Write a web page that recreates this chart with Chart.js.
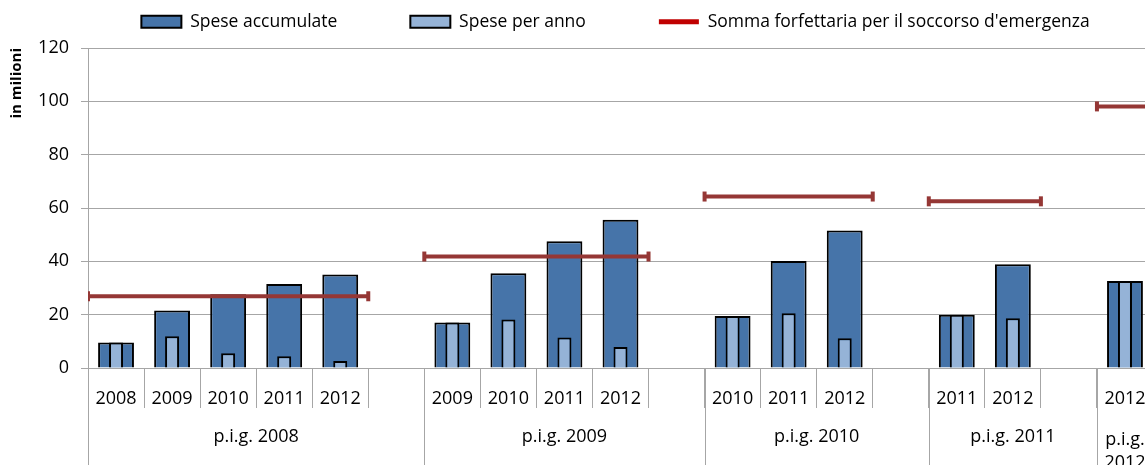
<!DOCTYPE html>
<html>
<head>
<meta charset="utf-8">
<script src="https://cdn.jsdelivr.net/npm/chart.js@4.4.3/dist/chart.umd.min.js"></script>
<style>
  html, body { margin: 0; padding: 0; background: #fff; overflow: hidden; }
  #wrap { width: 1228px; height: 480px; }
</style>
</head>
<body>
<div id="wrap"><canvas id="chart" width="1228" height="480"></canvas></div>
<script>
// bottom row: one empty slot closes every p.i.g. block
const yearLabels = ['2008', '2009', '2010', '2011', '2012', '',
                    '2009', '2010', '2011', '2012', '',
                    '2010', '2011', '2012', '',
                    '2011', '2012', '',
                    '2012'];
const speseAccumulate = [9.6, 21.6, 27.7, 31.5, 35.1, null,
                         17.1, 35.5, 47.5, 55.6, null,
                         19.5, 40.1, 51.6, null,
                         20.0, 38.9, null,
                         32.6];
const spesePerAnno = [9.6, 11.9, 5.5, 4.4, 2.6, null,
                      17.1, 18.2, 11.4, 7.9, null,
                      19.5, 20.5, 11.2, null,
                      20.0, 18.7, null,
                      32.6];

// top row: blocks of years
const groupLabels = ['p.i.g. 2008', 'p.i.g. 2009', 'p.i.g. 2010', 'p.i.g. 2011', 'p.i.g. 2012'];
const groupStart = [0, 6, 11, 15, 18];
const groupYears = [5, 4, 3, 2, 1];    // slots holding bars
const groupSlots = [6, 5, 4, 3, 1];    // incl. the trailing empty slot
const sommaForfettaria = [26.9, 41.8, 64.3, 62.5, 98.1];

const yTicks = [0, 20, 40, 60, 80, 100, 120];

const FONT = "'Open Sans', sans-serif";
Chart.defaults.font.family = FONT;
Chart.defaults.color = '#000';

// one horizontal segment per block, spanning its year slots
const sommaPoints = [];
groupStart.forEach((s, i) => {
  sommaPoints.push({ x: s - 0.5, y: sommaForfettaria[i] });
  sommaPoints.push({ x: s + groupYears[i] - 0.5, y: sommaForfettaria[i] });
  sommaPoints.push({ x: s + groupYears[i], y: null });
});

// draws the p.i.g. row below the years
const groupAxis = {
  id: 'groupAxis',
  afterDraw(chart) {
    const ctx = chart.ctx;
    const xl = chart.scales.xl;
    const top = chart.scales.x.top;
    ctx.save();
    ctx.strokeStyle = '#a6a6a6';
    ctx.lineWidth = 1;
    ctx.fillStyle = '#000';
    ctx.font = '18px ' + FONT;
    ctx.textAlign = 'center';
    ctx.textBaseline = 'middle';
    groupLabels.forEach((lab, i) => {
      const a = xl.getPixelForValue(groupStart[i] - 0.5);
      const b = xl.getPixelForValue(groupStart[i] + groupSlots[i] - 0.5);
      const px = Math.round(a) + 0.5;
      ctx.beginPath();
      ctx.moveTo(px, top);
      ctx.lineTo(px, chart.height);
      ctx.stroke();
      let lines = [lab];
      if (ctx.measureText(lab).width > b - a - 6) lines = lab.split(' ');
      const y0 = top + 69 + (lines.length - 1) * 3;
      lines.forEach((t, k) => ctx.fillText(t, (a + b) / 2, y0 + k * 23));
    });
    ctx.restore();
  }
};

// legend sits higher and a bit right of where the layout puts it
// (bottom kept so the clip box still holds the items)
const legendPlace = {
  id: 'legendPlace',
  afterLayout(chart) {
    const lg = chart.legend;
    lg.top -= 60;
    lg.left += 35;
    lg.right += 35;
  }
};

new Chart(document.getElementById('chart'), {
  data: {
    labels: yearLabels,
    datasets: [
      {
        type: 'bar',
        label: 'Spese accumulate',
        data: speseAccumulate,
        backgroundColor: '#4674a9',
        borderColor: '#000',
        borderWidth: 2,
        grouped: false,
        categoryPercentage: 1,
        barPercentage: 0.64,
        order: 2
      },
      {
        type: 'bar',
        label: 'Spese per anno',
        data: spesePerAnno,
        backgroundColor: '#95b3d7',
        borderColor: '#000',
        borderWidth: 2,
        grouped: false,
        categoryPercentage: 1,
        barPercentage: 0.25,
        order: 1
      },
      {
        type: 'line',
        label: "Somma forfettaria per il soccorso d'emergenza",
        data: sommaPoints,
        xAxisID: 'xl',
        borderColor: '#953735',
        backgroundColor: '#953735',
        borderWidth: 4,
        spanGaps: false,
        pointStyle: 'line',
        rotation: 90,
        pointRadius: 5,
        pointBorderWidth: 4,
        pointBorderColor: '#953735',
        pointHoverRadius: 5,
        order: 0
      }
    ]
  },
  options: {
    responsive: false,
    animation: false,
    devicePixelRatio: 1,
    layout: { padding: { left: 8, right: 75, top: 0, bottom: 0 } },
    plugins: {
      tooltip: { enabled: false },
      legend: {
        position: 'top',
        maxHeight: 48,
        labels: {
          usePointStyle: true,
          pointStyleWidth: 40,
          boxHeight: 12,
          padding: 73,
          font: { size: 17.5 },
          color: '#000',
          sort: (a, b) => a.datasetIndex - b.datasetIndex,
          generateLabels(chart) {
            const items = Chart.defaults.plugins.legend.labels.generateLabels(chart);
            items.forEach((it) => {
              if (it.datasetIndex === 2) {
                it.pointStyle = 'line';
                it.rotation = 0;
                it.strokeStyle = '#c00000';
                it.lineWidth = 5;
              } else {
                it.pointStyle = 'rect';
                it.rotation = 0;
                it.strokeStyle = '#000';
                it.lineWidth = 2;
              }
            });
            return items;
          }
        }
      }
    },
    scales: {
      x: {
        type: 'category',
        offset: true,
        grid: { offset: true, drawOnChartArea: false, tickLength: 40, color: '#a6a6a6', tickColor: '#a6a6a6' },
        border: { display: true, color: '#a6a6a6' },
        ticks: { padding: -20, autoSkip: false, maxRotation: 0, font: { size: 18 }, color: '#000' },
        afterFit(scale) { scale.height = 112; }
      },
      xl: {
        type: 'linear',
        display: false,
        min: -0.5,
        max: 18.5
      },
      y: {
        min: 0,
        max: 120,
        afterBuildTicks(scale) { scale.ticks = yTicks.map(v => ({ value: v })); },
        ticks: { padding: 12, font: { size: 18 }, color: '#000' },
        grid: { color: '#a6a6a6', tickLength: 7 },
        border: { color: '#a6a6a6' },
        title: { display: true, text: 'in milioni', align: 'end', padding: 0, color: '#000', font: { size: 15, weight: 'bold' } },
        afterFit(scale) { scale.width = 80; }
      }
    }
  },
  plugins: [groupAxis, legendPlace]
});
</script>
</body>
</html>
